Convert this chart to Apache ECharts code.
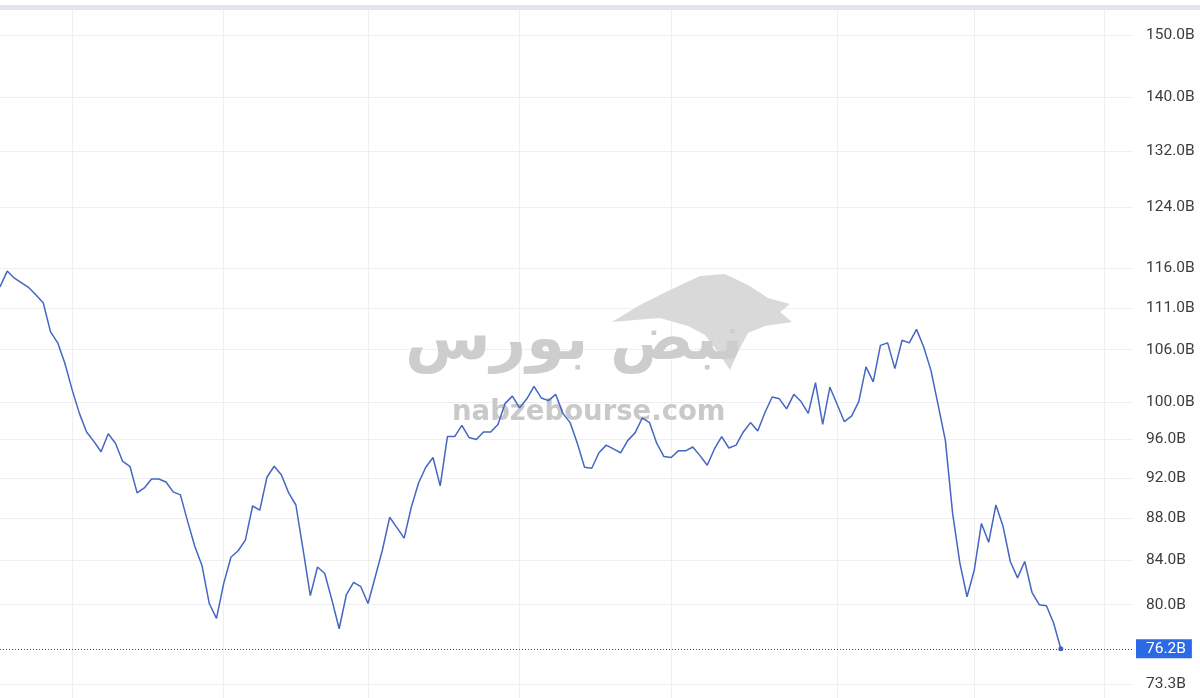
<!DOCTYPE html>
<html>
<head>
<meta charset="utf-8">
<title>Market value</title>
<script src="https://cdn.jsdelivr.net/npm/echarts@6/dist/echarts.min.js"></script>
<style>
  html, body { margin: 0; padding: 0; background: #fff; }
  #chart { width: 1200px; height: 698px; }
</style>
</head>
<body>
<div id="chart"></div>
<script>
// daily value, billions
const values = [
  113.6, 115.6, 114.7, 114.1, 113.5, 112.6, 111.6, 108.1, 106.8, 104.4,
  101.4, 98.8, 96.8, 95.8, 94.7, 96.6, 95.6, 93.7, 93.2, 90.5,
  91.0, 91.9, 91.9, 91.6, 90.6, 90.3, 87.7, 85.3, 83.5, 80.1,
  78.8, 81.9, 84.3, 84.9, 85.9, 89.2, 88.8, 92.1, 93.2, 92.3,
  90.5, 89.3, 85.0, 80.8, 83.4, 82.8, 80.4, 77.9, 80.9, 82.0,
  81.6, 80.1, 82.5, 85.0, 88.1, 87.1, 86.1, 89.1, 91.5, 93.1,
  94.1, 91.2, 96.3, 96.3, 97.5, 96.2, 96.0, 96.8, 96.8, 97.6,
  99.9, 100.7, 99.4, 100.4, 101.8, 100.5, 100.2, 100.9, 98.8, 97.8,
  95.6, 93.1, 93.0, 94.6, 95.4, 95.0, 94.6, 95.9, 96.7, 98.3,
  97.8, 95.6, 94.2, 94.1, 94.8, 94.8, 95.2, 94.3, 93.3, 95.0,
  96.3, 95.1, 95.4, 96.8, 97.8, 96.9, 98.9, 100.6, 100.4, 99.3,
  100.9, 100.1, 98.8, 102.2, 97.6, 101.7, 99.8, 97.9, 98.5, 100.1,
  104.0, 102.3, 106.5, 106.8, 103.8, 107.1, 106.8, 108.4, 106.3, 103.6,
  99.7, 95.9, 88.5, 83.8, 80.7, 83.1, 87.5, 85.7, 89.3, 87.2,
  83.9, 82.4, 83.9, 81.1, 80.0, 79.9, 78.4, 76.2
]
// trading days, last ones left empty as right padding
const categories = Array.from({ length: 158 }, (_, i) => String(i + 1))
const yTicks = [73.3, 80, 84, 88, 92, 96, 100, 106, 111, 116, 124, 132, 140, 150]
const monthStarts = [10, 31, 51, 72, 93, 116, 135, 153]
const lastValue = 76.2

const chart = echarts.init(document.getElementById('chart'))
const gridColor = '#efeff2'
const lineColor = '#4566c2'

const option = {
  animation: false,
  backgroundColor: '#fff',
  grid: { top: 8, right: 67, bottom: 0, left: 0 },
  xAxis: {
    type: 'category',
    boundaryGap: false,
    data: categories,
    axisLine: { show: false },
    axisTick: { show: false },
    axisLabel: { show: false },
    splitLine: {
      show: true,
      interval: (index) => monthStarts.includes(index),
      lineStyle: { color: gridColor, width: 1 },
    },
  },
  yAxis: {
    type: 'log',
    position: 'right',
    min: 72.17,
    max: 154.54,
    axisLine: { show: false },
    axisTick: { show: false, customValues: yTicks },
    axisLabel: {
      customValues: yTicks,
      margin: 13,
      color: '#3c3c3c',
      fontFamily: 'Roboto',
      fontSize: 15.5,
      formatter: (v) => v.toFixed(1) + 'B',
    },
    splitLine: { show: true, lineStyle: { color: gridColor, width: 1 } },
  },
  graphic: [
    { type: 'rect', left: 0, top: 5, shape: { width: 1200, height: 5 }, style: { fill: '#e4e4ed' }, z: 10 },
    {
      type: 'polygon',
      z: 1,
      shape: {
        points: [
          [612, 322], [640, 305], [670, 290], [700, 276], [725, 274], [748, 285],
          [768, 298], [790, 304], [780, 312], [792, 322], [765, 326], [748, 333],
          [738, 352], [730, 370], [718, 352], [705, 335], [688, 326], [660, 318], [635, 320],
        ],
      },
      style: { fill: '#d9d9d9' },
    },
    {
      type: 'text', z: 1, left: 405, top: 312,
      style: { text: 'نبض بورس', font: 'bold 62px "DejaVu Sans"', fill: '#cdcdcd' },
    },
    {
      type: 'text', z: 1, left: 452, top: 399,
      style: { text: 'nabzebourse.com', font: 'bold 27.5px "DejaVu Sans"', fill: '#c9c9c9' },
    },
  ],
  series: [
    {
      type: 'line',
      data: values,
      showSymbol: true,
      showAllSymbol: true,
      symbol: (v, p) => (p.dataIndex === values.length - 1 ? 'circle' : 'none'),
      symbolSize: 5,
      itemStyle: { color: lineColor },
      lineStyle: { color: lineColor, width: 1.5 },
      z: 3,
      markLine: {
        silent: true,
        symbol: ['none', 'none'],
        lineStyle: { type: [1, 2], color: '#34466e', width: 1 },
        label: {
          position: 'end',
          distance: 3,
          formatter: lastValue.toFixed(1) + 'B',
          color: '#fff',
          fontFamily: 'Roboto',
          fontSize: 15.5,
          backgroundColor: '#2b6ae6',
          padding: [2, 6, 1, 10],
        },
        data: [{ yAxis: lastValue }],
      },
    },
  ],
}

chart.setOption(option)
</script>
</body>
</html>
